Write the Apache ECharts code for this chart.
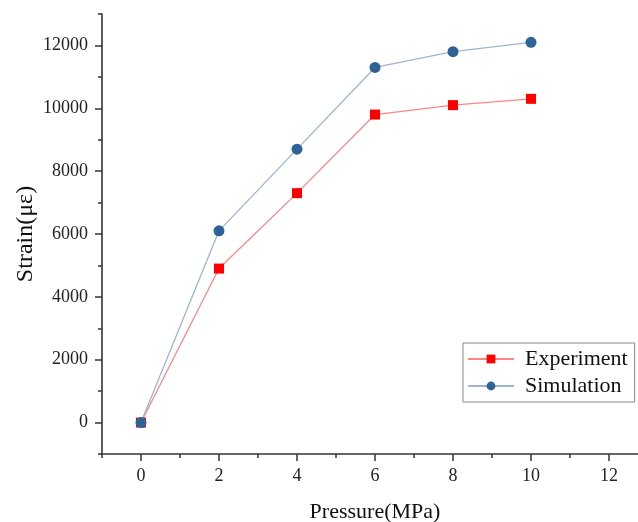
<!DOCTYPE html>
<html lang="en">
<head>
    <meta charset="UTF-8">
    <script src="https://cdn.jsdelivr.net/npm/echarts@6/dist/echarts.min.js"></script>
    <title>Strain vs Pressure</title>
    <style>
        html, body { margin: 0; padding: 0; background: #fff; }
        #main { width: 638px; height: 522px; }
    </style>
</head>
<body>
<div id="main"></div>
<script type="text/javascript">
    var pressure = [0, 2, 4, 6, 8, 10];
    var experiment = [0, 4900, 7300, 9800, 10100, 10300];
    var simulation = [0, 6100, 8700, 11300, 11800, 12100];

    function pairs(ys) {
        return pressure.map(function (x, i) { return [x, ys[i]]; });
    }

    var font = 'Liberation Serif';
    var axisColor = '#333';

    var myChart = echarts.init(document.getElementById('main'));
    var option = {
        animation: false,
        textStyle: { fontFamily: font },
        // grid 0 carries the data and the minor ticks, grid 1 only the labelled major ticks
        grid: [
            { left: 102, top: 14, width: 546, height: 440, outerBoundsMode: 'none' },
            { left: 141, top: 45.43, width: 468, height: 377.14, outerBoundsMode: 'none' }
        ],
        legend: {
            left: 463,
            top: 343,
            orient: 'vertical',
            itemWidth: 46,
            itemHeight: 11,
            itemGap: 5,
            padding: [5, 7, 5, 4],
            borderColor: '#8a8a8a',
            borderWidth: 1,
            textStyle: { fontFamily: font, fontSize: 22, color: '#111', padding: [0, 0, 0, 6] },
            data: ['Experiment', 'Simulation']
        },
        xAxis: [
            {
                type: 'value', gridIndex: 0, min: -1, max: 13, interval: 1,
                name: 'Pressure(MPa)', nameLocation: 'middle', nameGap: 47,
                nameTextStyle: { fontFamily: font, fontSize: 22, color: '#111' },
                axisLine: { show: true, onZero: false, lineStyle: { color: axisColor, width: 1.6 } },
                axisTick: { show: true, length: 4, lineStyle: { color: axisColor, width: 1.5 } },
                axisLabel: { show: false },
                splitLine: { show: false }
            },
            {
                type: 'value', gridIndex: 1, min: 0, max: 12, interval: 2, offset: 31.43,
                axisLine: { show: true, onZero: false, lineStyle: { opacity: 0 } },
                axisTick: { show: true, length: 7, lineStyle: { color: axisColor, width: 1.5 } },
                axisLabel: { fontFamily: font, fontSize: 18, color: '#222', margin: 13,
                    formatter: function (v) { return String(v); } },
                splitLine: { show: false }
            }
        ],
        yAxis: [
            {
                type: 'value', gridIndex: 0, min: -1000, max: 13000, interval: 1000,
                name: 'Strain(με)', nameLocation: 'middle', nameGap: 64,
                nameTextStyle: { fontFamily: font, fontSize: 24, color: '#111' },
                axisLine: { show: true, onZero: false, lineStyle: { color: axisColor, width: 1.6 } },
                axisTick: { show: true, length: 4, lineStyle: { color: axisColor, width: 1.5 } },
                axisLabel: { show: false },
                splitLine: { show: false }
            },
            {
                type: 'value', gridIndex: 1, min: 0, max: 12000, interval: 2000, offset: 39,
                axisLine: { show: true, onZero: false, lineStyle: { opacity: 0 } },
                axisTick: { show: true, length: 7, lineStyle: { color: axisColor, width: 1.5 } },
                axisLabel: { fontFamily: font, fontSize: 18, color: '#222', margin: 14,
                    formatter: function (v) { return String(v); } },
                splitLine: { show: false }
            }
        ],
        series: [
            {
                name: 'Experiment',
                type: 'line',
                xAxisIndex: 0, yAxisIndex: 0,
                symbol: 'rect', symbolSize: 10,
                itemStyle: { color: '#ff0000' },
                lineStyle: { color: '#ff8585', width: 1.3 },
                data: pairs(experiment)
            },
            {
                name: 'Simulation',
                type: 'line',
                xAxisIndex: 0, yAxisIndex: 0,
                symbol: 'circle', symbolSize: 11,
                itemStyle: { color: '#2e6398' },
                lineStyle: { color: '#9db5d0', width: 1.3 },
                data: pairs(simulation)
            }
        ]
    };
    myChart.setOption(option);
</script>
</body>
</html>
